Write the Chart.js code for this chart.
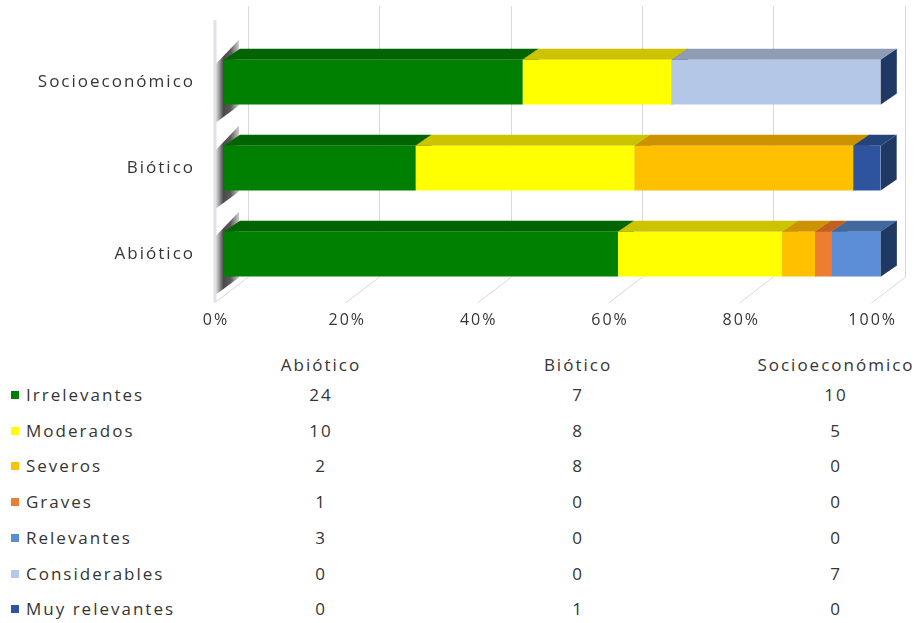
<!DOCTYPE html>
<html>
<head>
<meta charset="utf-8">
<script src="https://cdn.jsdelivr.net/npm/chart.js@4.4.1/dist/chart.umd.min.js"></script>
<style>
  html, body { margin: 0; padding: 0; background: #fff; }
  #wrap { position: relative; width: 915px; height: 623px; overflow: hidden; font-family: 'Open Sans', sans-serif; color: #353535; }
  #my_chart { position: absolute; left: 0; top: 0; }
  .cell { position: absolute; font-size: 17px; letter-spacing: 2px; line-height: 20px; white-space: nowrap; transform: translate(-50%, -50%); }
  .lab { position: absolute; font-size: 17px; letter-spacing: 2px; line-height: 20px; white-space: nowrap; transform: translateY(-50%); }
  .key { position: absolute; width: 8px; height: 8px; transform: translateY(-50%); }
</style>
</head>
<body>
<div id="wrap">
  <canvas id="my_chart" width="915" height="340"></canvas>
  <div id="table"></div>
</div>
<script>
(function() {
  'use strict';

  // categorías (orden de la tabla)
  const categories = ['Abiótico', 'Biótico', 'Socioeconómico'];
  const seriesNames = ['Irrelevantes', 'Moderados', 'Severos', 'Graves', 'Relevantes', 'Considerables', 'Muy relevantes'];

  // número de impactos por categoría
  const irrelevantes  = [24, 7, 10];
  const moderados     = [10, 8, 5];
  const severos       = [2, 8, 0];
  const graves        = [1, 0, 0];
  const relevantes    = [3, 0, 0];
  const considerables = [0, 0, 7];
  const muyRelevantes = [0, 1, 0];

  const xTickLabels = ['0%', '20%', '40%', '60%', '80%', '100%'];

  const seriesValues = [irrelevantes, moderados, severos, graves, relevantes, considerables, muyRelevantes];
  // frente, cara superior, cara lateral
  const colors = [
    ['#008000', '#006400', '#005000'],
    ['#FFFF00', '#CCC400', '#B0A800'],
    ['#FFC000', '#CC9200', '#A87800'],
    ['#ED7D31', '#C4601E', '#A04E18'],
    ['#5B8ED6', '#42699E', '#2E4C7A'],
    ['#B4C7E7', '#8E9DB5', '#7A889E'],
    ['#2E54A0', '#24437A', '#1F3864']
  ];

  const totals = categories.map((c, j) => seriesValues.reduce((s, arr) => s + arr[j], 0));

  const DX = 16, DY = 11; // profundidad de las barras

  function poly(ctx, pts) {
    ctx.beginPath();
    ctx.moveTo(pts[0][0], pts[0][1]);
    for (let k = 1; k < pts.length; k++) ctx.lineTo(pts[k][0], pts[k][1]);
    ctx.closePath();
    ctx.fill();
  }

  const threeD = {
    id: 'threeD',
    beforeDraw(chart) {
      chart.ctx.letterSpacing = '2px';
    },
    beforeDatasetsDraw(chart) {
      const ctx = chart.ctx;
      const xs = chart.scales.x;
      const area = chart.chartArea;
      ctx.save();

      // pared del fondo y suelo
      ctx.strokeStyle = '#d9d9d9';
      ctx.lineWidth = 1;
      for (let v = 0; v <= 100; v += 20) {
        const px = Math.round(xs.getPixelForValue(v)) + 0.5;
        ctx.beginPath();
        ctx.moveTo(px + 24, 6);
        ctx.lineTo(px + 24, area.bottom - 20);
        ctx.lineTo(px - 10, area.bottom + 6);
        ctx.stroke();
      }
      // borde de la pared izquierda
      const x0 = xs.getPixelForValue(0);
      ctx.strokeStyle = '#e4e0e8';
      ctx.lineWidth = 3;
      ctx.beginPath();
      ctx.moveTo(x0 - 9, 20);
      ctx.lineTo(x0 - 9, area.bottom + 5);
      ctx.stroke();

      // sombra lateral izquierda
      chart.getDatasetMeta(0).data.forEach(bar => {
        const p = bar.getProps(['y', 'height'], true);
        const top = p.y - p.height / 2, bot = p.y + p.height / 2;
        const g = ctx.createLinearGradient(x0 - 9, 0, x0 + 15, 0);
        g.addColorStop(0, '#f2f2f2');
        g.addColorStop(0.35, '#4a4a4a');
        g.addColorStop(0.65, '#5a5a5a');
        g.addColorStop(1, '#d0d0d0');
        ctx.fillStyle = g;
        poly(ctx, [[x0 - 8, top + 4], [x0 + 15, top - 20], [x0 + 15, bot + 1], [x0 - 8, bot + 18]]);
      });

      // caras laterales
      chart.data.datasets.forEach((ds, i) => {
        chart.getDatasetMeta(i).data.forEach(bar => {
          const p = bar.getProps(['x', 'y', 'height'], true);
          const top = p.y - p.height / 2, bot = p.y + p.height / 2;
          ctx.fillStyle = ds.sideColor;
          poly(ctx, [[p.x, top], [p.x + DX, top - DY], [p.x + DX, bot - DY], [p.x, bot]]);
        });
      });
      // caras superiores
      chart.data.datasets.forEach((ds, i) => {
        chart.getDatasetMeta(i).data.forEach(bar => {
          const p = bar.getProps(['x', 'y', 'base', 'height'], true);
          if (Math.abs(p.x - p.base) < 0.5) return;
          const top = p.y - p.height / 2;
          ctx.fillStyle = ds.topColor;
          poly(ctx, [[p.base, top], [p.x, top], [p.x + DX, top - DY], [p.base + DX, top - DY]]);
        });
      });
      ctx.restore();
    }
  };

  Chart.defaults.font.family = "'Open Sans', sans-serif";
  Chart.defaults.color = '#353535';

  const datasets = seriesNames.map((name, i) => ({
    label: name,
    data: seriesValues[i].map((v, j) => v / totals[j] * 100),
    backgroundColor: colors[i][0],
    topColor: colors[i][1],
    sideColor: colors[i][2],
    borderWidth: 0,
    barPercentage: 0.52,
    categoryPercentage: 1
  }));

  const ctx = document.getElementById('my_chart').getContext('2d');
  new Chart(ctx, {
    type: 'bar',
    data: { labels: categories, datasets: datasets },
    options: {
      indexAxis: 'y',
      responsive: false,
      animation: false,
      layout: { padding: { top: 25, right: 32, left: 0, bottom: 0 } },
      plugins: { legend: { display: false }, tooltip: { enabled: false } },
      scales: {
        x: {
          stacked: true,
          min: 0,
          max: 100,
          grid: { display: false, drawTicks: false },
          border: { display: false },
          ticks: {
            stepSize: 20,
            padding: 14,
            labelOffset: -8,
            maxRotation: 0,
            font: { size: 16 },
            callback: v => xTickLabels[v / 20]
          },
          afterFit: s => { s.height = 43; }
        },
        y: {
          stacked: true,
          reverse: true,
          grid: { display: false, drawTicks: false },
          border: { display: false },
          ticks: { padding: 29, font: { size: 17 } },
          afterFit: s => { s.width = 224; }
        }
      }
    },
    plugins: [threeD]
  });

  // tabla de datos
  const table = document.getElementById('table');
  const colX = [321, 578, 836];
  function add(cls, text, x, y, color) {
    const d = document.createElement('div');
    d.className = cls;
    d.style.left = x + 'px';
    d.style.top = y + 'px';
    if (text !== null) d.textContent = text;
    if (color) d.style.background = color;
    table.appendChild(d);
  }
  categories.forEach((c, j) => add('cell', c, colX[j], 365));
  seriesNames.forEach((name, i) => {
    const y = 395 + i * 35.7;
    add('key', null, 11, y, colors[i][0]);
    add('lab', name, 26, y);
    seriesValues[i].forEach((v, j) => add('cell', String(v), colX[j], y));
  });
})();
</script>
</body>
</html>
